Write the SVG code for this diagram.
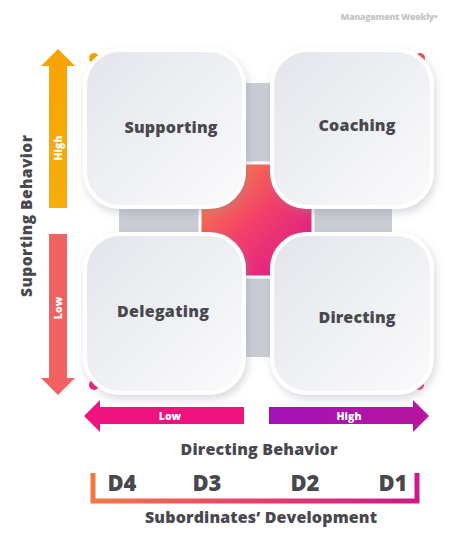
<svg xmlns="http://www.w3.org/2000/svg" width="474" height="545" viewBox="0 0 474 545">
<defs>
<linearGradient id="boxFill" x1="0" y1="0" x2="1" y2="1">
<stop offset="0" stop-color="#e3e5eb"/>
<stop offset="0.6" stop-color="#f1f2f5"/>
<stop offset="1" stop-color="#fbfbfc"/>
</linearGradient>
<linearGradient id="centerFill" x1="0" y1="0" x2="1" y2="1">
<stop offset="0" stop-color="#f8913a"/>
<stop offset="0.5" stop-color="#f23f6a"/>
<stop offset="1" stop-color="#d8108f"/>
</linearGradient>
<linearGradient id="bracketGrad" x1="0" y1="0" x2="1" y2="0">
<stop offset="0" stop-color="#f07a45"/>
<stop offset="0.5" stop-color="#ea3d6a"/>
<stop offset="1" stop-color="#cc1888"/>
</linearGradient>
<linearGradient id="purpleGrad" x1="0" y1="0" x2="1" y2="0">
<stop offset="0" stop-color="#a311b8"/>
<stop offset="1" stop-color="#b8159f"/>
</linearGradient>
<linearGradient id="orangeGrad" x1="0" y1="0" x2="0" y2="1">
<stop offset="0" stop-color="#f7a300"/>
<stop offset="1" stop-color="#f6ad10"/>
</linearGradient>
<filter id="shadow" x="-20%" y="-20%" width="150%" height="150%">
<feDropShadow dx="2" dy="4" stdDeviation="4" flood-color="#8a90a0" flood-opacity="0.35"/>
</filter>
<style>
.box{fill:url(#boxFill);stroke:#ffffff;stroke-width:4;filter:url(#shadow)}
.lbl{font-family:"Open Sans","DejaVu Sans",sans-serif;font-weight:800;fill:#48484e;text-anchor:middle}
.wt{font-family:"Open Sans","DejaVu Sans",sans-serif;font-weight:800;fill:#ffffff;text-anchor:middle;font-size:10.5px}
.gray{fill:#c9ccd3}
</style>
</defs>
<rect width="474" height="545" fill="#ffffff"/>
<text x="389" y="20" font-family="'Open Sans','DejaVu Sans',sans-serif" font-weight="800" font-size="9" fill="#c6c6c8" text-anchor="middle" textLength="97">Management Weekly•</text>

<g id="backdrop">
<rect class="gray" x="243" y="83" width="27" height="274"/>
<rect class="gray" x="119" y="208" width="273" height="25"/>
<circle cx="94" cy="58" r="5" fill="#f5a300"/>
<circle cx="420" cy="58" r="5" fill="#ef4d5a"/>
<circle cx="94" cy="385" r="5" fill="#ea1a7a"/>
<circle cx="419" cy="385" r="5" fill="#e3367a"/>
<rect x="200" y="163" width="113" height="114" rx="24" fill="url(#centerFill)" stroke="#ffffff" stroke-width="3"/>
</g>

<g id="connectors">
<path d="M49 208 V66 H41 L58 49 L75 66 H67 V208 Z" fill="url(#orangeGrad)"/>
<path d="M49 234 V378 H41 L58 395 L75 378 H67 V234 Z" fill="#f26262"/>
<path d="M244 407 H100 V400 L84 416 L100 432 V424 H244 Z" fill="#f0137f"/>
<path d="M269 407 H413 V400 L429 416 L413 432 V424 H269 Z" fill="url(#purpleGrad)"/>
<path d="M93 473 V501 H417 V473" fill="none" stroke="url(#bracketGrad)" stroke-width="5"/>
</g>

<g id="supporting">
<rect class="box" x="85" y="50" width="159" height="157" rx="35"/>
<text class="lbl" x="171" y="133" font-size="16" textLength="93">Supporting</text>
</g>
<g id="coaching">
<rect class="box" x="272" y="50" width="160" height="157" rx="35"/>
<text class="lbl" x="357" y="131" font-size="16" textLength="77">Coaching</text>
</g>
<g id="delegating">
<rect class="box" x="85" y="234" width="159" height="159" rx="35"/>
<text class="lbl" x="163" y="317" font-size="16" textLength="92">Delegating</text>
</g>
<g id="directing">
<rect class="box" x="272" y="234" width="160" height="159" rx="35"/>
<text class="lbl" x="357" y="323" font-size="16" textLength="77">Directing</text>
</g>

<g id="axis-labels">
<text class="wt" transform="translate(62 148) rotate(-90)">High</text>
<text class="wt" transform="translate(62 308) rotate(-90)">Low</text>
<text class="wt" x="170" y="420">Low</text>
<text class="wt" x="349" y="420">High</text>
<text class="lbl" font-size="15.5" transform="translate(32 216) rotate(-90)" textLength="162">Suporting Behavior</text>
<text class="lbl" x="259" y="455" font-size="16" textLength="157">Directing Behavior</text>
<text class="lbl" x="122" y="491" font-size="22">D4</text>
<text class="lbl" x="207" y="491" font-size="22">D3</text>
<text class="lbl" x="305" y="491" font-size="22">D2</text>
<text class="lbl" x="393" y="491" font-size="22">D1</text>
<text class="lbl" x="261" y="523" font-size="16" textLength="232">Subordinates’ Development</text>
</g>
</svg>
